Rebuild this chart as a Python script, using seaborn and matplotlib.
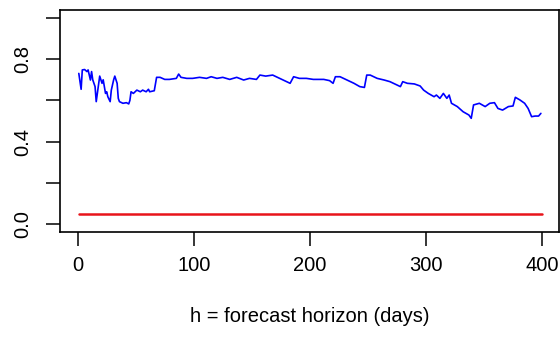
import matplotlib
matplotlib.use("Agg")
import matplotlib.pyplot as plt
import seaborn as sns
import pandas as pd

# ---- data ----
horizon = [1, 3, 4, 6, 8, 9, 11, 12, 13, 15,
           16, 19, 21, 22, 24, 25, 26, 28, 29, 31,
           32, 34, 35, 36, 39, 42, 44, 45, 46, 48,
           51, 54, 56, 59, 61, 62, 66, 68, 71, 75,
           79, 85, 87, 89, 94, 99, 105, 111, 115, 120,
           125, 131, 137, 143, 148, 154, 157, 162, 168, 174,
           180, 183, 186, 191, 197, 203, 212, 217, 220, 222,
           226, 232, 238, 243, 247, 249, 252, 258, 264, 269,
           275, 278, 280, 284, 290, 295, 298, 302, 307, 309,
           312, 315, 318, 320, 322, 327, 332, 337, 339, 341,
           346, 351, 355, 359, 362, 366, 371, 375, 377, 381,
           385, 388, 391, 394, 397, 399]
blue_values = [0.731, 0.654, 0.748, 0.75, 0.74, 0.748, 0.699, 0.74, 0.70, 0.667,
               0.594, 0.718, 0.683, 0.70, 0.634, 0.642, 0.618, 0.594, 0.65, 0.70,
               0.718, 0.683, 0.61, 0.594, 0.586, 0.589, 0.583, 0.60, 0.642, 0.634,
               0.65, 0.642, 0.65, 0.642, 0.654, 0.642, 0.647, 0.712, 0.712, 0.702,
               0.702, 0.707, 0.728, 0.712, 0.707, 0.707, 0.712, 0.707, 0.715, 0.707,
               0.712, 0.702, 0.712, 0.699, 0.707, 0.702, 0.723, 0.718, 0.723, 0.707,
               0.691, 0.683, 0.715, 0.707, 0.707, 0.702, 0.702, 0.696, 0.683, 0.715,
               0.715, 0.699, 0.683, 0.667, 0.663, 0.723, 0.723, 0.707, 0.699, 0.691,
               0.675, 0.667, 0.691, 0.683, 0.68, 0.67, 0.65, 0.634, 0.618, 0.626,
               0.61, 0.634, 0.61, 0.626, 0.586, 0.57, 0.545, 0.529, 0.513, 0.578,
               0.586, 0.57, 0.586, 0.589, 0.561, 0.553, 0.57, 0.573, 0.615, 0.602,
               0.586, 0.561, 0.521, 0.524, 0.524, 0.537]
red_x = [1, 400]
red_values = [0.05, 0.05]
x_ticks = [0, 100, 200, 300, 400]
y_ticks = [0.0, 0.2, 0.4, 0.6, 0.8, 1.0]
y_tick_labels = ["0.0", "", "0.4", "", "0.8", ""]
x_label = "h = forecast horizon (days)"

sns.set_theme(style="white")
plt.rcParams["font.family"] = ["Liberation Sans", "DejaVu Sans"]

fig = plt.figure(figsize=(5.6, 3.4), dpi=100)
W, H = 560, 340
ax = fig.add_axes([60 / W, (H - 232) / H, (559 - 60) / W, (232 - 10) / H])

blue_df = pd.DataFrame({"h": horizon, "v": blue_values})
red_df = pd.DataFrame({"h": red_x, "v": red_values})
sns.lineplot(data=blue_df, x="h", y="v", ax=ax, color="#0000FF", linewidth=1.2)
sns.lineplot(data=red_df, x="h", y="v", ax=ax, color="#E8141A", linewidth=1.8)

ax.set_xlim(-15.2, 414.6)
ax.set_ylim(-0.039, 1.039)
ax.set_xticks(x_ticks)
ax.set_xticklabels([str(t) for t in x_ticks])
ax.set_yticks(y_ticks)
ax.set_yticklabels(y_tick_labels, rotation=90, va="center")

for s in ax.spines.values():
    s.set_visible(True)
    s.set_color("black")
    s.set_linewidth(1.2)

ax.tick_params(axis="both", which="major", direction="out", length=10,
               width=1.1, color="black", labelsize=14.5, labelcolor="black",
               bottom=True, left=True)
ax.tick_params(axis="x", pad=7)
ax.tick_params(axis="y", pad=10)

ax.set_xlabel(x_label, fontsize=14.5, color="black", labelpad=23)
ax.set_ylabel("")
ax.grid(False)

fig.savefig("out.png", dpi=100, facecolor="white")
